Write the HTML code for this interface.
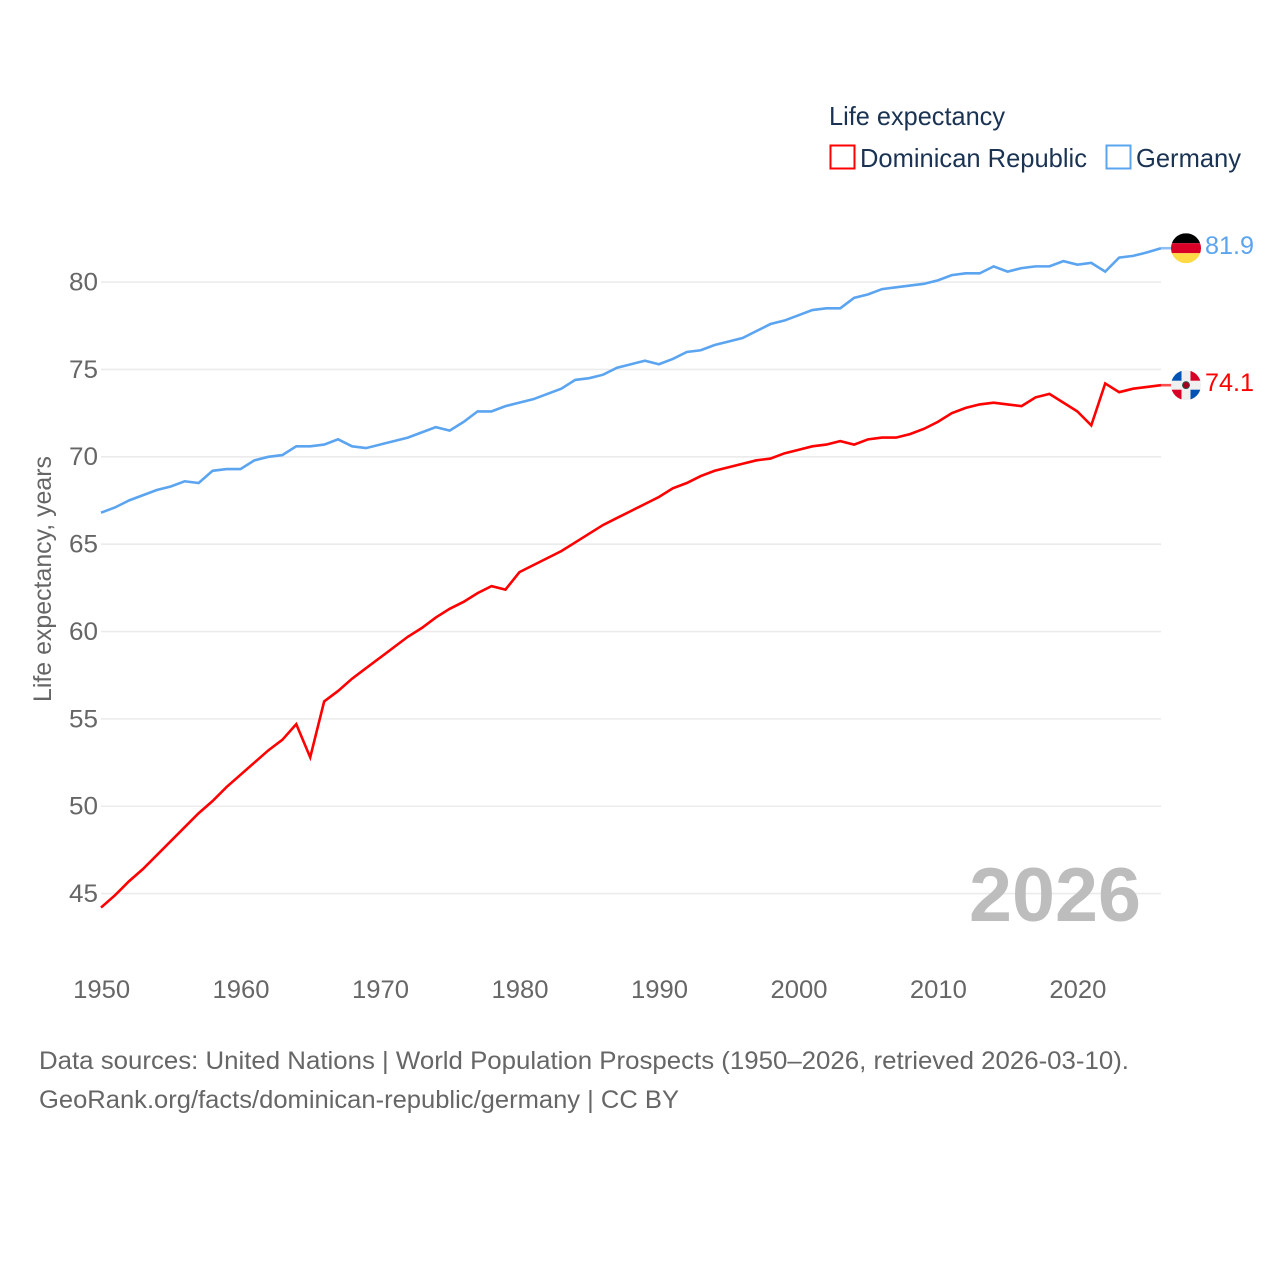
<!DOCTYPE html>
<html lang="en">
<head>
<meta charset="utf-8">
<title>Life expectancy: Dominican Republic and Germany</title>
<style>
html,body{margin:0;padding:0;background:#fff;}
svg{display:block;font-family:"Liberation Sans",sans-serif;}
</style>
</head>
<body>
<svg id="chart" xmlns="http://www.w3.org/2000/svg" width="1280" height="1280" viewBox="0 0 1280 1280">
  <defs>
    <clipPath id="clip-de"><circle cx="0" cy="0" r="15"/></clipPath>
    <clipPath id="clip-do"><circle cx="0" cy="0" r="15"/></clipPath>
  </defs>
  <rect width="1280" height="1280" fill="#ffffff"/>
  <g id="grid"></g>
  <g id="y-ticks"></g>
  <g id="x-ticks"></g>
  <text transform="translate(51,579) rotate(-90)" text-anchor="middle" font-size="25" fill="#666666" textLength="246" lengthAdjust="spacingAndGlyphs">Life expectancy, years</text>

  <text x="969" y="921" font-size="76" font-weight="bold" fill="#bdbdbd" textLength="172" lengthAdjust="spacingAndGlyphs">2026</text>

  <g id="series"></g>

  <g id="flag-de" clip-path="url(#clip-de)">
    <rect x="-15" y="-15" width="30" height="10" fill="#000000"/>
    <rect x="-15" y="-5" width="30" height="10" fill="#d80027"/>
    <rect x="-15" y="5" width="30" height="10" fill="#ffda44"/>
  </g>
  <g id="flag-do" clip-path="url(#clip-do)">
    <rect x="-15" y="-15" width="30" height="30" fill="#f0f0f0"/>
    <rect x="-15" y="-15" width="10.5" height="10.5" fill="#0052b4"/>
    <rect x="4.5" y="4.5" width="10.5" height="10.5" fill="#0052b4"/>
    <rect x="4.5" y="-15" width="10.5" height="10.5" fill="#d80027"/>
    <rect x="-15" y="4.5" width="10.5" height="10.5" fill="#d80027"/>
    <circle r="4" fill="#2f5a55"/>
    <circle r="3" fill="#a2001d"/>
  </g>
  <g id="end-labels"></g>

  <g>
    <text x="829" y="125" font-size="26" fill="#1a3353" textLength="176" lengthAdjust="spacingAndGlyphs">Life expectancy</text>
    <g>
      <rect x="830.5" y="145.5" width="24" height="23" fill="none" stroke="#ff0000" stroke-width="2"/>
      <text x="860" y="167" font-size="26" fill="#1a3353" textLength="227" lengthAdjust="spacingAndGlyphs">Dominican Republic</text>
    </g>
    <g>
      <rect x="1106.5" y="145.5" width="24" height="23" fill="none" stroke="#5ba4f0" stroke-width="2"/>
      <text x="1136" y="167" font-size="26" fill="#1a3353" textLength="105" lengthAdjust="spacingAndGlyphs">Germany</text>
    </g>
  </g>

  <g>
    <text x="39" y="1069" font-size="25" fill="#666666" textLength="1090" lengthAdjust="spacingAndGlyphs">Data sources: United Nations | World Population Prospects (1950–2026, retrieved 2026-03-10).</text>
    <text x="39" y="1108" font-size="25" fill="#666666" textLength="640" lengthAdjust="spacingAndGlyphs">GeoRank.org/facts/dominican-republic/germany | CC BY</text>
  </g>
</svg>
<script>
const startYear = 1950;
const xTickLabels = [1950, 1960, 1970, 1980, 1990, 2000, 2010, 2020];
const yTickLabels = [45, 50, 55, 60, 65, 70, 75, 80];
const dominicanRepublic = [
  44.2, 44.9, 45.7, 46.4, 47.2, 48.0, 48.8, 49.6, 50.3, 51.1,
  51.8, 52.5, 53.2, 53.8, 54.7, 52.8, 56.0, 56.6, 57.3, 57.9,
  58.5, 59.1, 59.7, 60.2, 60.8, 61.3, 61.7, 62.2, 62.6, 62.4,
  63.4, 63.8, 64.2, 64.6, 65.1, 65.6, 66.1, 66.5, 66.9, 67.3,
  67.7, 68.2, 68.5, 68.9, 69.2, 69.4, 69.6, 69.8, 69.9, 70.2,
  70.4, 70.6, 70.7, 70.9, 70.7, 71.0, 71.1, 71.1, 71.3, 71.6,
  72.0, 72.5, 72.8, 73.0, 73.1, 73.0, 72.9, 73.4, 73.6, 73.1,
  72.6, 71.8, 74.2, 73.7, 73.9, 74.0, 74.1
];
const germany = [
  66.8, 67.1, 67.5, 67.8, 68.1, 68.3, 68.6, 68.5, 69.2, 69.3,
  69.3, 69.8, 70.0, 70.1, 70.6, 70.6, 70.7, 71.0, 70.6, 70.5,
  70.7, 70.9, 71.1, 71.4, 71.7, 71.5, 72.0, 72.6, 72.6, 72.9,
  73.1, 73.3, 73.6, 73.9, 74.4, 74.5, 74.7, 75.1, 75.3, 75.5,
  75.3, 75.6, 76.0, 76.1, 76.4, 76.6, 76.8, 77.2, 77.6, 77.8,
  78.1, 78.4, 78.5, 78.5, 79.1, 79.3, 79.6, 79.7, 79.8, 79.9,
  80.1, 80.4, 80.5, 80.5, 80.9, 80.6, 80.8, 80.9, 80.9, 81.2,
  81.0, 81.1, 80.6, 81.4, 81.5, 81.7, 81.94
];

const NS = 'http://www.w3.org/2000/svg';
const xScale = function (year) { return 101 + (year - 1950) * (1060 / 76); };
const yScale = function (v) { return 893.6 - (v - 45) * (611.5 / 35); };
const RED = '#ff0000';
const BLUE = '#5ba4f0';

function make(tag, parent, attrs, text) {
  const el = document.createElementNS(NS, tag);
  Object.keys(attrs).forEach(function (k) { el.setAttribute(k, attrs[k]); });
  if (text !== undefined) el.textContent = text;
  parent.appendChild(el);
  return el;
}

const gridG = document.getElementById('grid');
const yG = document.getElementById('y-ticks');
const xG = document.getElementById('x-ticks');
const seriesG = document.getElementById('series');
const endG = document.getElementById('end-labels');

yTickLabels.forEach(function (v) {
  const line = make('line', gridG, { x1: xScale(1950), x2: xScale(2026), y1: yScale(v), y2: yScale(v), stroke: '#ebebeb', 'stroke-width': 1.6 });
  
  
  const label = make('text', yG, { x: 98, y: yScale(v) + 8.4, 'text-anchor': 'end', 'font-size': 25, fill: '#666666', textLength: 29, lengthAdjust: 'spacingAndGlyphs' }, String(v));
  
  
});

xTickLabels.forEach(function (yr) {
  const label = make('text', xG, { x: xScale(yr) + 0.6, y: 998, 'text-anchor': 'middle', 'font-size': 25, fill: '#666666', textLength: 57, lengthAdjust: 'spacingAndGlyphs' }, String(yr));
  
  
});

function drawSeries(values, color, key, flagId) {
  const pts = values.map(function (v, i) { return xScale(startYear + i).toFixed(2) + ',' + yScale(v).toFixed(2); });
  const last = values[values.length - 1];
  const lastX = xScale(startYear + values.length - 1);
  const lastY = yScale(last);
  const line = make('polyline', seriesG, { points: pts.join(' '), fill: 'none', stroke: color, 'stroke-width': 2.6, 'stroke-linejoin': 'miter' });
  
  
  const conn = make('line', seriesG, { x1: lastX, x2: lastX + 13, y1: lastY, y2: lastY, stroke: color, 'stroke-width': 2.6, 'stroke-opacity': 0.7 });
  
  
  document.getElementById(flagId).setAttribute('transform', 'translate(' + (lastX + 25) + ',' + lastY + ')');
  const label = make('text', endG, { x: 1205, y: lastY + 6, 'font-size': 25, fill: color, textLength: 49, lengthAdjust: 'spacingAndGlyphs' }, last.toFixed(1));
  
  
}

drawSeries(dominicanRepublic, RED, 'dominican-republic', 'flag-do');
drawSeries(germany, BLUE, 'germany', 'flag-de');
</script>
</body>
</html>
